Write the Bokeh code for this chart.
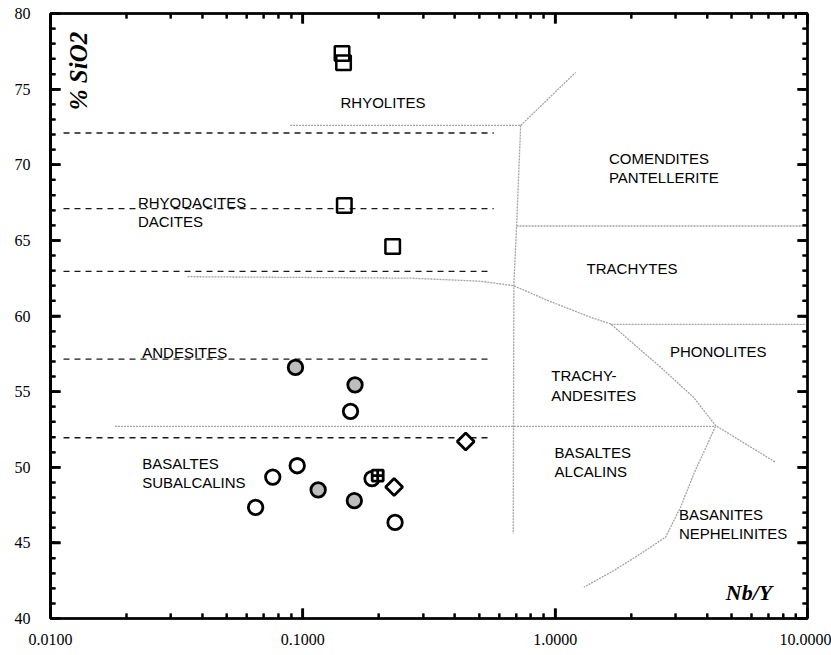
import math
from bokeh.plotting import figure
from bokeh.models import (LogAxis, LinearAxis, FixedTicker, SingleIntervalTicker,
                          CustomJSTickFormatter, Range1d)
from bokeh.core.properties import value
from bokeh.embed import file_html
from bokeh.resources import INLINE

# ---------------- data ----------------
x_ticks = [0.01, 0.1, 1.0, 10.0]
x_tick_labels = ["0.0100", "0.1000", "1.0000", "10.0000"]
x_minor_mult = [2, 3, 4, 5, 6, 7, 8, 9]
y_major = [40, 45, 50, 55, 60, 65, 70, 75, 80]
y_minor = [v for v in range(41, 80) if v % 5 != 0]
x_lo, x_hi, y_lo, y_hi = 0.01, 10.0, 40, 80

# samples
square_x = [0.143, 0.145, 0.146, 0.227]
square_y = [77.35, 76.75, 67.3, 64.6]

open_circle_x = [0.1545, 0.095, 0.076, 0.065, 0.232, 0.188]
open_circle_y = [53.7, 50.1, 49.35, 47.35, 46.35, 49.25]

grey_circle_x = [0.0935, 0.161, 0.115, 0.160]
grey_circle_y = [56.6, 55.45, 48.5, 47.8]

diamond_x = [0.442, 0.230]
diamond_y = [51.7, 48.7]

cross_x = [0.198]
cross_y = [49.45]

# dashed SiO2 limits (black)
dash_levels = [72.1, 67.1, 62.95, 57.15, 51.95]
dash_start = [0.01126, 0.01126, 0.01126, 0.01126, 0.01126]
dash_end = [0.571, 0.571, 0.546, 0.541, 0.541]

# grey field boundaries (Winchester & Floyd)
b1_x = [0.089, 0.73];  b1_y = [72.6, 72.6]
b2_x = [0.73, 1.205];  b2_y = [72.6, 76.1]
b3_x = [0.73, 0.703, 0.686, 0.682];  b3_y = [72.6, 65.9, 62.1, 45.6]
b4_x = [0.703, 9.9];  b4_y = [65.95, 65.95]
b5_x = [0.0349, 0.27, 0.506, 0.686, 0.933, 1.38, 1.658, 2.617, 3.535, 4.32, 7.47]
b5_y = [62.6, 62.5, 62.3, 62.0, 61.03, 59.92, 59.48, 56.61, 54.63, 52.76, 50.33]
b6_x = [1.658, 9.9];  b6_y = [59.45, 59.45]
b7_x = [0.018, 4.32];  b7_y = [52.7, 52.7]
b8_x = [4.32, 3.545, 3.14, 2.738, 2.18, 1.709, 1.299]
b8_y = [52.7, 49.57, 47.36, 45.38, 44.28, 43.17, 42.07]
boundaries_x = [b1_x, b2_x, b3_x, b4_x, b5_x, b6_x, b7_x, b8_x]
boundaries_y = [b1_y, b2_y, b3_y, b4_y, b5_y, b6_y, b7_y, b8_y]

# field names
field_text = ["RHYOLITES", "RHYODACITES", "DACITES", "COMENDITES", "PANTELLERITE",
              "TRACHYTES", "ANDESITES", "PHONOLITES", "TRACHY-", "ANDESITES",
              "BASALTES", "SUBALCALINS", "BASALTES", "ALCALINS", "BASANITES",
              "NEPHELINITES"]
field_x = [0.141, 0.0222, 0.0222, 1.633, 1.633, 1.332, 0.0231, 2.849, 0.965, 0.965,
           0.0231, 0.0231, 0.9945, 0.9945, 3.093, 3.093]
field_y = [74.1, 67.52, 66.27, 70.39, 69.14, 63.16, 57.61, 57.65, 56.07, 54.74,
           50.27, 49.01, 50.96, 49.72, 46.88, 45.64]

# ---------------- figure ----------------
p = figure(width=831, height=652, x_axis_type="log",
           x_range=Range1d(x_lo, x_hi), y_range=Range1d(y_lo, y_hi),
           output_backend="svg", toolbar_location=None,
           min_border_left=50, min_border_right=24, min_border_top=13,
           min_border_bottom=34)
p.background_fill_color = "white"
p.border_fill_color = "white"
p.outline_line_color = "black"
p.outline_line_width = 2
p.xgrid.visible = False
p.ygrid.visible = False

minor = [m * t for t in x_ticks[:-1] for m in x_minor_mult]
xticker = FixedTicker(ticks=x_ticks, minor_ticks=minor)
yticker = SingleIntervalTicker(interval=5, num_minor_ticks=5)

fmt = CustomJSTickFormatter(args=dict(tv=x_ticks, tl=x_tick_labels), code="""
    for (let i = 0; i < tv.length; i++) {
        if (Math.abs(Math.log10(tv[i]) - Math.log10(tick)) < 1e-6) return tl[i];
    }
    return tick.toFixed(4);
""")

def style_axis(ax, labels=True):
    ax.axis_line_color = "black"
    ax.axis_line_width = 2.5
    ax.major_tick_line_color = "black"
    ax.minor_tick_line_color = "black"
    ax.major_tick_line_width = 2.5
    ax.minor_tick_line_width = 2
    ax.major_tick_in = 10
    ax.major_tick_out = 0
    ax.minor_tick_in = 5
    ax.minor_tick_out = 0
    if labels:
        ax.major_label_text_font = "Liberation Serif"
        ax.major_label_text_font_size = "16px"
        ax.major_label_text_color = "black"
    else:
        ax.major_label_text_font_size = "2px"
        ax.major_label_text_alpha = 0
        ax.major_label_standoff = 0

xa = p.xaxis[0]
xa.ticker = xticker
xa.formatter = fmt
style_axis(xa)
xa.major_label_standoff = 15

ya = p.yaxis[0]
ya.ticker = yticker
style_axis(ya)
ya.axis_line_width = 3
ya.major_label_standoff = 20

top = LogAxis(ticker=xticker)
style_axis(top, labels=False)
p.add_layout(top, "above")
right = LinearAxis(ticker=yticker)
style_axis(right, labels=False)
p.add_layout(right, "right")

# inward tick marks along the frame (dash markers centred on the frame edge,
# the outer half is clipped away by the plot frame)
for xs, size, lw in ((x_ticks, 20, 2.5), (minor, 10, 2)):
    p.scatter(xs * 2, [y_lo] * len(xs) + [y_hi] * len(xs), marker="dash",
              angle=math.pi / 2, size=size, line_width=lw, line_color="black")
for ys, size, lw in ((y_major, 20, 2.5), (y_minor, 10, 2)):
    p.scatter([x_lo] * len(ys) + [x_hi] * len(ys), ys * 2, marker="dash",
              size=size, line_width=lw, line_color="black")

# grey boundaries
p.multi_line(boundaries_x, boundaries_y, line_color="#a3a3a3", line_width=1.3,
             line_dash="2 1")

# black dashed limits
p.segment(x0=dash_start, y0=dash_levels, x1=dash_end, y1=dash_levels,
          line_color="#1a1a1a", line_width=1.3, line_dash="6 5")

# field names
p.text(field_x, field_y, text=field_text, text_font=value("Liberation Sans"),
       text_font_size="15px", text_color="black", text_align="left",
       text_baseline="middle")

# axis titles inside plot
p.text([0.01294], [76.2], text=["% SiO2"], angle=math.pi / 2,
       text_font=value("Liberation Serif"), text_font_style="bold italic",
       text_font_size="25px", text_color="black", text_align="center",
       text_baseline="middle")
p.text([7.25], [41.75], text=["Nb/Y"], text_font=value("Liberation Serif"),
       text_font_style="bold italic", text_font_size="22px", text_color="black",
       text_align="right", text_baseline="middle")

# samples
p.scatter(square_x, square_y, marker="square", size=14.5, line_width=2.5,
          line_color="black", fill_alpha=0)
p.scatter(open_circle_x, open_circle_y, marker="circle", size=14.5, line_width=2.8,
          line_color="black", fill_color="white")
p.scatter(grey_circle_x, grey_circle_y, marker="circle", size=14.5, line_width=2.8,
          line_color="black", fill_color="#bdbdbd")
p.scatter(cross_x, cross_y, marker="square_cross", size=11, line_width=2.8,
          line_color="black", fill_color="white")
p.scatter(diamond_x, diamond_y, marker="square", angle=math.pi / 4, size=12,
          line_width=2.8, line_color="black", fill_color="white")

open("out.html", "w").write(file_html(p, INLINE))
